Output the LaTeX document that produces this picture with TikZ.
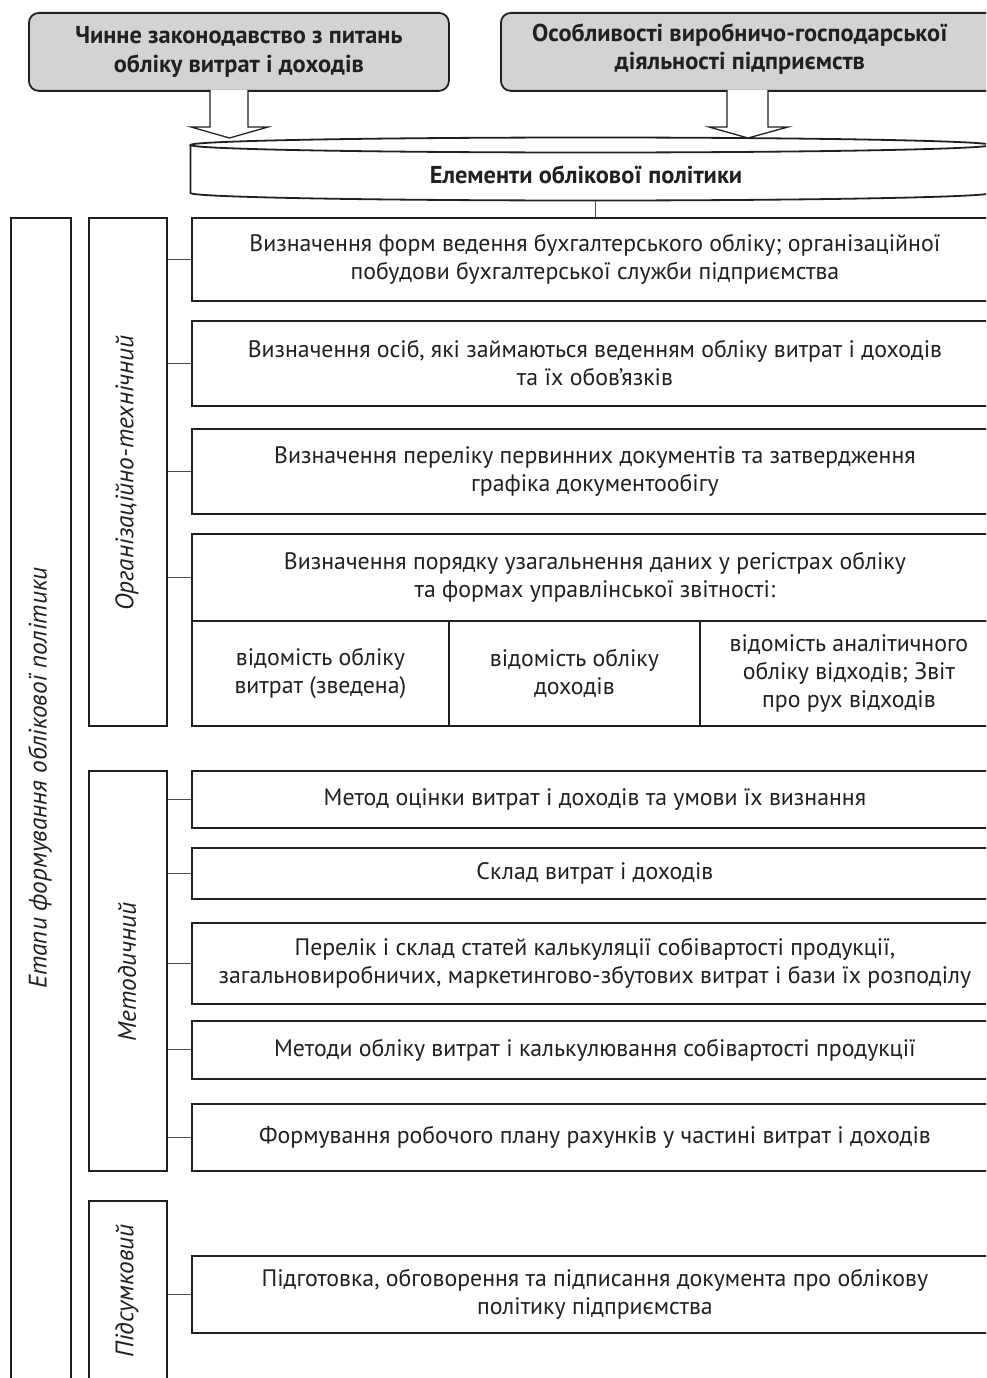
\documentclass[tikz,border=0pt]{standalone}
\usepackage{fontspec}
\setmainfont{PT Sans}
\definecolor{linec}{HTML}{231F20}
\definecolor{textc}{HTML}{231F20}
\definecolor{connc}{HTML}{4D4D4D}
\definecolor{headgray}{HTML}{D1D3D4}
\newcommand\myBody{\fontsize{23.8}{28}\selectfont}
\newcommand\myHead{\fontsize{24.4}{28.5}\selectfont\bfseries}
\newcommand\myLabel{\fontsize{25.3}{28}\selectfont\itshape}
\begin{document}
\begin{tikzpicture}[x=1pt,y=-1pt,
  base/.style={draw=linec, line width=1.8pt, inner sep=0pt, text=textc},
  head/.style={base, fill=headgray, rounded corners=10pt, align=center, font=\myHead},
  item/.style={base, fill=white, align=center, font=\myBody, anchor=north west, minimum width=806},
  stage/.style={base, fill=white, anchor=north west},
  conn/.style={draw=connc, line width=1pt},
  blockarrow/.style={draw=linec, line width=1.3pt, fill=white, line join=miter},
  vlabel/.style={rotate=90, font=\myLabel, text=textc, inner sep=0pt},
  htext/.style={font=\myHead, text=textc, align=center, inner sep=0pt}]
\useasboundingbox (0,0) rectangle (986,1378);
\clip (0,0) rectangle (986,1378);

% heading boxes
\node[head, minimum width=420, minimum height=78, anchor=north west] (h1) at (28,12) {Чинне законодавство з питань\\обліку витрат і доходів};
\node[head, minimum width=497, minimum height=78, anchor=north west] (h2) at (500,12) {};
\node[htext] (h2t) at (740,49) {Особливості виробничо-господарської\\діяльності підприємств};

% cylinder
\draw[draw=linec, line width=1.8pt, fill=white] (190.5,145) -- (190.5,193) arc[start angle=180, end angle=0, x radius=400, y radius=7.5] -- (990.5,145);
\draw[draw=linec, line width=1.8pt, fill=white] (590.5,145) ellipse [x radius=400, y radius=7.5];
\node[htext] (cyl) at (586,175) {Елементи облікової політики};
\coordinate (cylbot) at (595,200.5);

% block arrows
\draw[blockarrow] (210,90) -- (210,127) -- (191,127) -- (229.5,138) -- (268,127) -- (248,127) -- (248,90);
\draw[blockarrow] (727,90) -- (727,127) -- (709,127) -- (748,138) -- (788,127) -- (768,127) -- (768,90);

% stage columns
\node[stage, minimum width=60, minimum height=1250] (stages) at (10,217) {};
\node[vlabel] at (40,778) {Етапи формування облікової політики};
\node[stage, minimum width=78, minimum height=508] (org) at (88,217) {};
\node[vlabel] at (127,473) {Організаційно-технічний};
\node[stage, minimum width=78, minimum height=400] (met) at (88,770) {};
\node[vlabel] at (127,972) {Методичний};
\node[stage, minimum width=78, minimum height=260] (pid) at (88,1200) {};
\node[vlabel] at (127,1291) {Підсумковий};

% organisational items
\node[item, minimum height=83] (o1) at (191,217) {Визначення форм ведення бухгалтерського обліку; організаційної\\побудови бухгалтерської служби підприємства};
\node[item, minimum height=85] (o2) at (191,320) {Визначення осіб, які займаються веденням обліку витрат і доходів\\та їх обов’язків};
\node[item, minimum height=85] (o3) at (191,428) {Визначення переліку первинних документів та затвердження\\графіка документообігу};
\node[item, minimum height=87] (o4) at (191,533) {Визначення порядку узагальнення даних у регістрах обліку\\та формах управлінської звітності:};
\node[item, minimum width=257, minimum height=105] (c1) at (191,620) {відомість обліку\\витрат (зведена)};
\node[item, minimum width=251, minimum height=105] (c2) at (448,620) {відомість обліку\\доходів};
\node[item, minimum width=298, minimum height=105] (c3) at (699,620) {відомість аналітичного\\обліку відходів; Звіт\\про рух відходів};

% methodical items
\node[item, minimum height=57] (m1) at (191,770) {Метод оцінки витрат і доходів та умови їх визнання};
\node[item, minimum height=51] (m2) at (191,847) {Склад витрат і доходів};
\node[item, minimum height=81] (m3) at (191,922) {Перелік і склад статей калькуляції собівартості продукції,\\загальновиробничих, маркетингово-збутових витрат і бази їх розподілу};
\node[item, minimum height=58] (m4) at (191,1020) {Методи обліку витрат і калькулювання собівартості продукції};
\node[item, minimum height=67] (m5) at (191,1103) {Формування робочого плану рахунків у частині витрат і доходів};

% final item
\node[item, minimum height=77] (p1) at (191,1255) {Підготовка, обговорення та підписання документа про облікову\\політику підприємства};

% connectors
\draw[conn] (cylbot) -- (cylbot |- o1.north);
\foreach \n in {o1,o2,o3,o4} \draw[conn] (org.east |- \n.west) -- (\n.west);
\foreach \n in {m1,m2,m3,m4,m5} \draw[conn] (met.east |- \n.west) -- (\n.west);
\draw[conn] (pid.east |- p1.west) -- (p1.west);
\end{tikzpicture}
\end{document}
